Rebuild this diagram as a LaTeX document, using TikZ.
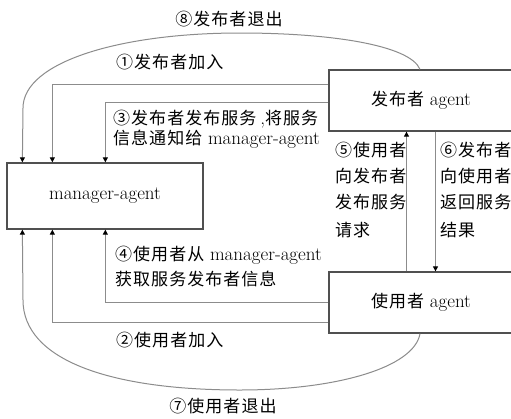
\documentclass[tikz,border=0pt]{standalone}
\usepackage{fontspec}
\newfontfamily\cjk[LetterSpace=6,Scale=0.895]{Noto Sans CJK SC}
\usetikzlibrary{arrows.meta}
\definecolor{linegray}{HTML}{8C8C8C}
\definecolor{boxgray}{HTML}{505050}
\begin{document}
\begin{tikzpicture}[x=1pt,y=-1pt,
  every node/.style={font=\fontsize{19}{22}\selectfont, inner sep=0pt},
  box/.style={draw=boxgray, line width=1.3pt, fill=white},
  conn/.style={draw=linegray, line width=1pt, -{Triangle[length=5pt,width=5pt,color=black]}},
  lbl/.style={anchor=west}]
\useasboundingbox (0,0) rectangle (511,418);
\fill[white] (0,0) rectangle (511,418);

\node[box, minimum width=196pt, minimum height=66pt] (mgr) at (105,196) {manager-agent};
\node[box, minimum width=184pt, minimum height=61pt] (pub) at (421,100.5) {{\cjk 发布者} agent};
\node[box, minimum width=184pt, minimum height=61pt] (usr) at (421,302.5) {{\cjk 使用者} agent};

% connectors
\draw[conn] ([yshift=16.5pt]pub.west) -| ([xshift=46pt]mgr.north west);
\draw[conn] ([yshift=-1.5pt]pub.west) -| ([xshift=99pt]mgr.north west);
\draw[conn] (usr.west) -| ([xshift=99pt]mgr.south west);
\draw[conn] ([yshift=-19.5pt]usr.west) -| ([xshift=46pt]mgr.south west);
\draw[conn] ([xshift=-14.5pt]usr.north) -- ([xshift=-14.5pt]pub.south);
\draw[conn] ([xshift=14.5pt]pub.south) -- ([xshift=14.5pt]usr.north);
\draw[conn] ([xshift=-1pt]pub.north) .. controls (410,45) and (330,33) .. (240,33)
  .. controls (120,33) and (23,62) .. (23,108) -- ([xshift=16pt]mgr.north west);
\draw[conn] ([xshift=-1pt]usr.south) .. controls (414,368) and (335,390) .. (240,390)
  .. controls (110,390) and (23,360) .. (23,300) -- ([xshift=16pt]mgr.south west);

% labels
\node (l8) at (229,19) {\cjk ⑧发布者退出};
\node[lbl] (l1) at (116,62) {\cjk ①发布者加入};
\node[lbl] (l3a) at (113,119) {{\cjk ③发布者发布服务}\kern4pt,{\cjk 将服务}};
\node[lbl] (l3b) at (113,139) {{\cjk 信息通知给} manager-agent};
\node[lbl] (l4a) at (115,255) {{\cjk ④使用者从} manager-agent};
\node[lbl] (l4b) at (115,279) {\cjk 获取服务发布者信息};
\node[lbl] (l2) at (116,340) {\cjk ②使用者加入};
\node (l7) at (223,406) {\cjk ⑦使用者退出};

\node[lbl] (l5a) at (335,150) {\cjk ⑤使用者};
\node[lbl] (l5b) at (335,176) {\cjk 向发布者};
\node[lbl] (l5c) at (335,202) {\cjk 发布服务};
\node[lbl] (l5d) at (335,230) {\cjk 请求};
\node[lbl] (l6a) at (440,150) {\cjk ⑥发布者};
\node[lbl] (l6b) at (440,176) {\cjk 向使用者};
\node[lbl] (l6c) at (440,202) {\cjk 返回服务};
\node[lbl] (l6d) at (440,230) {\cjk 结果};
\end{tikzpicture}
\end{document}
